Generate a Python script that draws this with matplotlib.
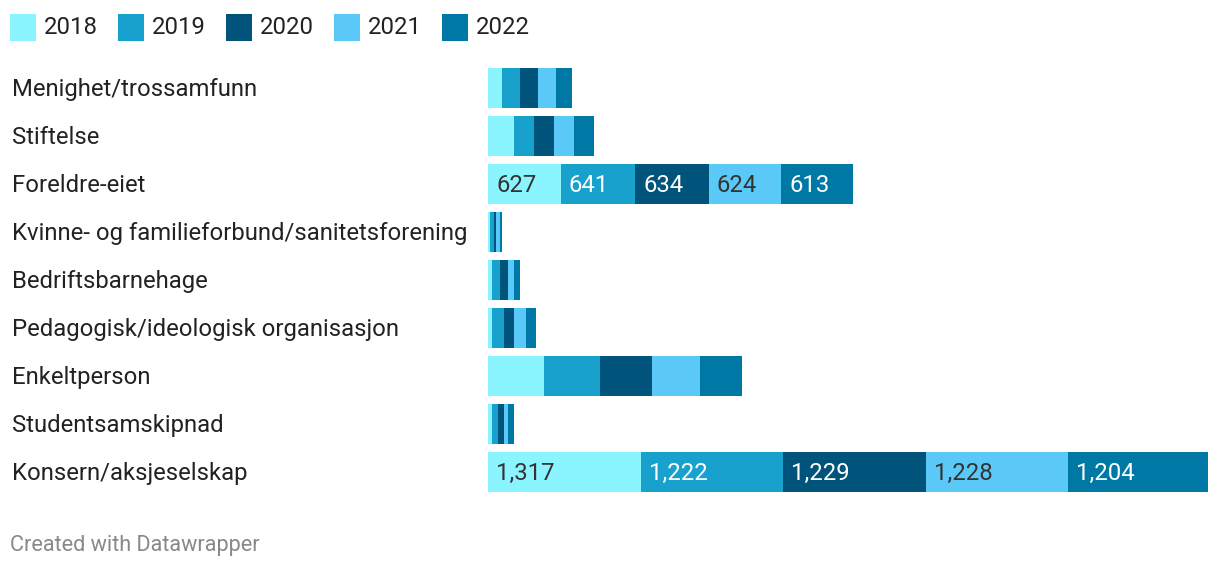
import matplotlib
matplotlib.use("Agg")
import matplotlib.pyplot as plt
from matplotlib.patches import Rectangle
import numpy as np

plt.rcParams['font.family'] = ['Roboto', 'DejaVu Sans']

categories = ["Menighet/trossamfunn", "Stiftelse", "Foreldre-eiet",
              "Kvinne- og familieforbund/sanitetsforening", "Bedriftsbarnehage",
              "Pedagogisk/ideologisk organisasjon", "Enkeltperson",
              "Studentsamskipnad", "Konsern/aksjeselskap"]
years = ["2018", "2019", "2020", "2021", "2022"]
v2018 = [120, 225, 627, 17, 34, 34, 482, 34, 1317]
v2019 = [155, 172, 641, 34, 69, 103, 482, 52, 1222]
v2020 = [155, 172, 634, 17, 69, 86, 448, 52, 1229]
v2021 = [155, 172, 624, 34, 52, 103, 413, 34, 1228]
v2022 = [138, 172, 613, 17, 52, 86, 362, 52, 1204]
labeled = ["Foreldre-eiet", "Konsern/aksjeselskap"]

colors = ["#8af5ff", "#18a1cd", "#00547c", "#5ac9f7", "#0078a5"]
text_colors = ["#333333", "white", "white", "#333333", "white"]
series = [v2018, v2019, v2020, v2021, v2022]

W, H = 1220, 570
fig = plt.figure(figsize=(W/100, H/100), dpi=100)
ax = fig.add_axes([488/W, 1-496/H, 720/W, 432/H])
y = np.arange(len(categories))
left = np.zeros(len(categories))
for vals, c, tc in zip(series, colors, text_colors):
    vals = np.array(vals, dtype=float)
    ax.barh(y, vals, left=left, height=40/48, color=c, linewidth=0)
    for i, cat in enumerate(categories):
        if cat in labeled:
            ax.text(left[i] + 8*6200/720, y[i] + 0.03, f"{int(vals[i]):,}", va='center', ha='left',
                    color=tc, fontsize=17.2)
    left += vals
ax.set_xlim(0, left.max())
ax.set_ylim(len(categories)-0.5, -0.5)
ax.axis('off')

for i, cat in enumerate(categories):
    ypix = 89.8 + 48*i
    fig.text(12/W, 1-ypix/H, cat, ha='left', va='center', fontsize=17.2, color='#222222')

xs = [10, 118, 226, 334, 442]
for x0, yr, c in zip(xs, years, colors):
    fig.add_artist(Rectangle((x0/W, 1-41/H), 26/W, 27/H, transform=fig.transFigure,
                             color=c, linewidth=0))
    fig.text((x0+34)/W, 1-27/H, yr, ha='left', va='center', fontsize=17.2, color='#222222')

fig.text(10/W, 1-546/H, "Created with Datawrapper", ha='left', va='center',
         fontsize=15.6, color='#888888')

fig.savefig("out.png", dpi=100)
